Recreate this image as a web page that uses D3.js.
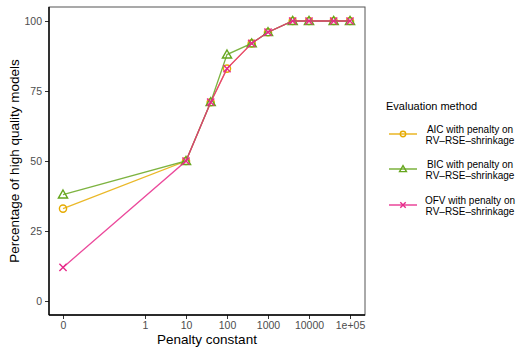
<!DOCTYPE html>
<html>
<head>
<meta charset="utf-8">
<script src="https://cdn.jsdelivr.net/npm/d3@7"></script>
<style>
body { margin: 0; background: #fff; }
text { font-family: "Liberation Sans", Arial, sans-serif; }
</style>
</head>
<body>
<div id="chart"></div>
<script>
// data
var penalty = [0, 10, 40, 100, 400, 1000, 4000, 10000, 40000, 100000];
var aicValues = [33, 50, 71, 83, 92, 96, 100, 100, 100, 100];
var bicValues = [38, 50, 71, 88, 92, 96, 100, 100, 100, 100];
var ofvValues = [12, 50, 71, 83, 92, 96, 100, 100, 100, 100];
var seriesNames = ["AIC with penalty on|RV\u2013RSE\u2013shrinkage", "BIC with penalty on|RV\u2013RSE\u2013shrinkage", "OFV with penalty on|RV\u2013RSE\u2013shrinkage"];
var seriesColors = ["#E6AB02", "#66A61E", "#E7298A"];
var seriesShapes = ["circle", "triangle", "cross"];
var xTicks = [0, 1, 10, 100, 1000, 10000, 100000];
var xTickLabels = ["0", "1", "10", "100", "1000", "10000", "1e+05"];
var yTicks = [0, 25, 50, 75, 100];

var width = 519, height = 347;
var panel = {left: 49, right: 365, top: 7, bottom: 315};

var svg = d3.select("#chart").append("svg").attr("width", width).attr("height", height);

// zero is drawn at 0.01 on the log axis
var xScale = d3.scaleLog().domain([0.01, 1e5]).range([63, 350]);
function px(v) {
    return xScale(v === 0 ? 0.01 : v);
}
var yScale = d3.scaleLinear().domain([0, 100]).range([301, 21]);

// panel border
svg.append("rect")
    .attr("x", panel.left).attr("y", panel.top)
    .attr("width", panel.right - panel.left).attr("height", panel.bottom - panel.top)
    .style("fill", "none").style("stroke", "#555").style("stroke-width", 1);

// axes
var xAxis = svg.append("g")
    .attr("transform", "translate(0," + panel.bottom + ")")
    .call(d3.axisBottom(xScale).tickValues(xTicks.map(function(d) { return d === 0 ? 0.01 : d; }))
        .tickFormat(function(d, i) { return xTickLabels[i]; }).tickSize(4).tickPadding(3));
var yAxis = svg.append("g")
    .attr("transform", "translate(" + panel.left + ",0)")
    .call(d3.axisLeft(yScale).tickValues(yTicks).tickSize(4).tickPadding(3));

[xAxis, yAxis].forEach(function(a) {
    a.select(".domain").remove();
    a.selectAll(".tick line").style("stroke", "#333");
    a.selectAll(".tick text").style("fill", "#4d4d4d").style("font-size", "10.5px")
        .style("font-family", "'Liberation Sans', Arial, sans-serif");
});

// axis lines (black, thicker)
svg.append("line").attr("x1", panel.left).attr("x2", panel.left)
    .attr("y1", panel.top).attr("y2", panel.bottom).style("stroke", "#000").style("stroke-width", 1.4);
svg.append("line").attr("x1", panel.left).attr("x2", panel.right)
    .attr("y1", panel.bottom).attr("y2", panel.bottom).style("stroke", "#000").style("stroke-width", 1.4);

// axis titles
svg.append("text")
    .attr("transform", "translate(19," + ((panel.top + panel.bottom) / 2) + ") rotate(-90)")
    .attr("text-anchor", "middle")
    .style("font-size", "13.5px").style("fill", "#000")
    .text("Percentage of high quality models");
svg.append("text")
    .attr("x", (panel.left + panel.right) / 2).attr("y", 344)
    .attr("text-anchor", "middle")
    .style("font-size", "13.5px").style("fill", "#000")
    .text("Penalty constant");

function drawShape(g, shape, cx, cy, color, k) {
    if (shape === "circle") {
        g.append("circle").attr("cx", cx).attr("cy", cy).attr("r", 3.6 * k)
            .style("fill", "none").style("stroke", color).style("stroke-width", 1.4);
    } else if (shape === "triangle") {
        var s = 4.6 * k;
        g.append("path")
            .attr("d", "M" + cx + "," + (cy - s) + "L" + (cx + s) + "," + (cy + s * 0.75) + "L" + (cx - s) + "," + (cy + s * 0.75) + "Z")
            .style("fill", "none").style("stroke", color).style("stroke-width", 1.4);
    } else {
        var c = 3.6 * k;
        g.append("path")
            .attr("d", "M" + (cx - c) + "," + (cy - c) + "L" + (cx + c) + "," + (cy + c) + "M" + (cx - c) + "," + (cy + c) + "L" + (cx + c) + "," + (cy - c))
            .style("fill", "none").style("stroke", color).style("stroke-width", 1.4);
    }
}

var allValues = [aicValues, bicValues, ofvValues];
var line = d3.line()
    .x(function(d) { return px(d[0]); })
    .y(function(d) { return yScale(d[1]); });

allValues.forEach(function(vals, si) {
    var pts = penalty.map(function(p, i) { return [p, vals[i]]; });
    var g = svg.append("g");
    g.append("path").datum(pts).attr("d", line)
        .style("fill", "none").style("stroke", seriesColors[si]).style("stroke-width", 1.3)
        .style("stroke-opacity", 0.85);
    pts.forEach(function(d) {
        drawShape(g, seriesShapes[si], px(d[0]), yScale(d[1]), seriesColors[si], 1);
    });
});

// legend
var legend = svg.append("g");
legend.append("text").attr("x", 386).attr("y", 110)
    .style("font-size", "11px").style("fill", "#000").text("Evaluation method");

var keyY = [134, 169, 205];
seriesNames.forEach(function(name, i) {
    legend.append("line").attr("x1", 389).attr("x2", 417)
        .attr("y1", keyY[i]).attr("y2", keyY[i])
        .style("stroke", seriesColors[i]).style("stroke-width", 1.3);
    drawShape(legend, seriesShapes[i], 403, keyY[i], seriesColors[i], 0.75);
    var parts = name.split("|");
    parts.forEach(function(p, j) {
        legend.append("text").attr("x", 470).attr("y", keyY[i] - 1 + j * 10.5)
            .attr("text-anchor", "middle")
            .style("font-size", "10px").style("fill", "#000").text(p);
    });
});
</script>
</body>
</html>
